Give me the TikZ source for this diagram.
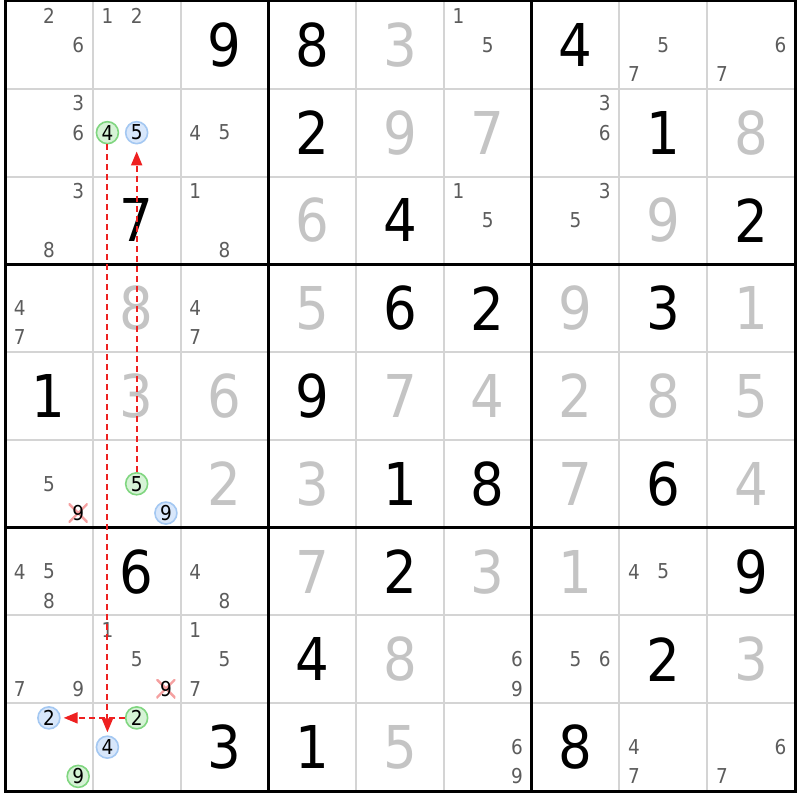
\documentclass[tikz,border=0pt]{standalone}
\usepackage{fontspec}
\setmainfont[FakeStretch=0.9]{DejaVu Sans}
\usetikzlibrary{arrows.meta}

\definecolor{solvedgray}{HTML}{C4C4C4}
\definecolor{candgray}{HTML}{5C5C5C}
\definecolor{gridgray}{HTML}{D4D4D4}
\definecolor{onfill}{HTML}{D6F3D6}
\definecolor{online}{HTML}{80D680}
\definecolor{offfill}{HTML}{D8E7FB}
\definecolor{offline}{HTML}{A4C8F2}
\definecolor{linkred}{HTML}{EE2020}
\definecolor{crosspink}{HTML}{F5A0A0}

% sizes in px
\newcommand{\cellsz}{87.78}
\newcommand{\subsz}{29.26}
% big digit: row, column, digit
\newcommand{\givendig}[3]{\node[givendigit] (g#1#2) at ({5+(#2-0.5)*\cellsz},{1+(#1-0.5)*\cellsz}) {#3};}
\newcommand{\solveddig}[3]{\node[solveddigit] (s#1#2) at ({5+(#2-0.5)*\cellsz},{1+(#1-0.5)*\cellsz}) {#3};}
% candidate: [style] row, column, digit
\newcommand{\cand}[4][]{\node[canddigit,#1] (c#2#3#4) at ({5+(#3-1)*\cellsz+(mod(#4-1,3)+0.5)*\subsz},{1+(#2-1)*\cellsz+(div(#4-1,3)+0.5)*\subsz}) {#4};}

\begin{document}
\begin{tikzpicture}[x=1pt, y=-1pt,
    thinline/.style={gridgray, line width=2pt},
    thickline/.style={black, line width=3pt},
    givendigit/.style={inner sep=0pt, text=black, font=\fontsize{59}{59}\selectfont},
    solveddigit/.style={givendigit, text=solvedgray},
    canddigit/.style={inner sep=0pt, text=candgray, font=\fontsize{20.5}{20.5}\selectfont},
    oncand/.style={circle, text=black, fill=onfill, draw=online, line width=1.6pt, minimum size=22pt},
    offcand/.style={circle, text=black, fill=offfill, draw=offline, line width=1.6pt, minimum size=22pt},
    crossed/.style={text=black, minimum size=19pt, path picture={
        \draw[crosspink, line width=2.4pt] (path picture bounding box.north west) -- (path picture bounding box.south east)
          (path picture bounding box.north east) -- (path picture bounding box.south west);}},
    link/.style={linkred, line width=2pt, dash pattern=on 6pt off 4pt, -{Triangle[length=14pt, width=11pt]}, shorten >=3pt}]
  \useasboundingbox[fill=white] (0,0) rectangle (800,800);

  % Draw the grid
  \foreach \i in {1,...,8} {
    \draw[thinline] ({5+\i*\cellsz},1) -- ({5+\i*\cellsz},791);
    \draw[thinline] (5,{1+\i*\cellsz}) -- (795,{1+\i*\cellsz});
  }
  \foreach \i in {3,6} {
    \draw[thickline] ({5+\i*\cellsz},1) -- ({5+\i*\cellsz},791);
    \draw[thickline] (5,{1+\i*\cellsz}) -- (795,{1+\i*\cellsz});
  }
  \draw[thickline] (5,1) rectangle (795,791);

  % Given digits
  \foreach \r/\c/\d in {1/3/9, 1/4/8, 1/7/4, 2/4/2, 2/8/1, 3/2/7, 3/5/4, 3/9/2,
      4/5/6, 4/6/2, 4/8/3, 5/1/1, 5/4/9, 6/5/1, 6/6/8, 6/8/6,
      7/2/6, 7/5/2, 7/9/9, 8/4/4, 8/8/2, 9/3/3, 9/4/1, 9/7/8}
    {\givendig{\r}{\c}{\d}}

  % Solved digits
  \foreach \r/\c/\d in {1/5/3, 2/5/9, 2/6/7, 2/9/8, 3/4/6, 3/8/9,
      4/2/8, 4/4/5, 4/7/9, 4/9/1, 5/2/3, 5/3/6, 5/5/7, 5/6/4, 5/7/2, 5/8/8, 5/9/5,
      6/3/2, 6/4/3, 6/7/7, 6/9/4, 7/4/7, 7/6/3, 7/7/1, 8/5/8, 8/9/3, 9/5/5}
    {\solveddig{\r}{\c}{\d}}

  % Candidates
  \foreach \r/\c/\d in {1/1/2, 1/1/6, 1/2/1, 1/2/2, 1/6/1, 1/6/5, 1/8/5, 1/8/7, 1/9/6, 1/9/7,
      2/1/3, 2/1/6, 2/3/4, 2/3/5, 2/7/3, 2/7/6,
      3/1/3, 3/1/8, 3/3/1, 3/3/8, 3/6/1, 3/6/5, 3/7/3, 3/7/5,
      4/1/4, 4/1/7, 4/3/4, 4/3/7, 6/1/5,
      7/1/4, 7/1/5, 7/1/8, 7/3/4, 7/3/8, 7/8/4, 7/8/5,
      8/1/7, 8/1/9, 8/2/1, 8/2/5, 8/3/1, 8/3/5, 8/3/7, 8/6/6, 8/6/9, 8/7/5, 8/7/6,
      9/6/6, 9/6/9, 9/8/4, 9/8/7, 9/9/6, 9/9/7}
    {\cand{\r}{\c}{\d}}

  % Chain candidates
  \cand[oncand]{2}{2}{4}
  \cand[offcand]{2}{2}{5}
  \cand[oncand]{6}{2}{5}
  \cand[offcand]{6}{2}{9}
  \cand[oncand]{9}{2}{2}
  \cand[offcand]{9}{2}{4}
  \cand[offcand]{9}{1}{2}
  \cand[oncand]{9}{1}{9}
  \cand[crossed]{6}{1}{9}
  \cand[crossed]{8}{2}{9}

  % Links
  \draw[link] (c224) -- (c924);
  \draw[link, shorten >=7pt] (c625) -- (c225);
  \draw[link] (c922) -- (c912);
\end{tikzpicture}
\end{document}
